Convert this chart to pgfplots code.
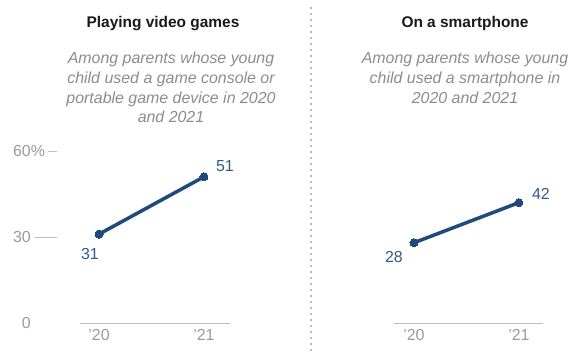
\documentclass[border=0pt]{standalone}
\usepackage{pgfplots}
\pgfplotsset{compat=1.18}
\usepackage{fontspec}
\setmainfont{Liberation Sans}
\definecolor{pewline}{HTML}{1F4A7C}
\definecolor{pewlab}{HTML}{2D5B8F}
\definecolor{subgray}{HTML}{8C8C8C}
\definecolor{tickgray}{HTML}{9A9A9A}
\definecolor{basegray}{HTML}{BDBDBD}
\pgfplotsset{
  pewaxis/.style={
    scale only axis, height=172bp,
    ymin=0, ymax=60,
    axis x line*=bottom, axis y line*=left,
    x axis line style={draw=basegray, line width=1bp},
    y axis line style={draw=none},
    major tick length=0pt,
    xtick={0,1}, xticklabels={'20,'21},
    xticklabel style={font=\fontsize{16}{19}\selectfont, text=tickgray, yshift=-3bp},
    /pgf/number format/assume math mode=true,
    clip=false,
  },
  pewline/.style={color=pewline, line width=3.5bp, mark=*, mark size=4bp, mark options={fill=pewline, draw=pewline, line width=0pt}},
}
\begin{document}
\begin{tikzpicture}[x=1bp,y=1bp]
% left panel
\begin{axis}[pewaxis, at={(80bp,29bp)}, anchor=south west, width=150bp,
  xmin=-0.181, xmax=1.248,
  ytick={0,30,60}, yticklabels={0,30,60\rlap{\%}},
  yticklabel style={anchor=east, inner sep=0pt, xshift=-49bp, font=\fontsize{16}{19}\selectfont, text=tickgray},
]
\addplot[pewline] coordinates {(0,31) (1,51)};
\draw[basegray, line width=0.8bp] (axis cs:-0.61,30) -- (axis cs:-0.40,30);
\draw[basegray, line width=0.8bp] (axis cs:-0.486,60) -- (axis cs:-0.40,60);
\node[text=pewlab, font=\fontsize{16}{19}\selectfont, xshift=-9bp, yshift=-20bp] at (axis cs:0,31) {31};
\node[text=pewlab, font=\fontsize{16}{19}\selectfont, xshift=21bp, yshift=11bp] at (axis cs:1,51) {51};
\end{axis}
% right panel
\begin{axis}[pewaxis, at={(394bp,29bp)}, anchor=south west, width=149bp,
  xmin=-0.19, xmax=1.229, ytick=\empty,
]
\addplot[pewline] coordinates {(0,28) (1,42)};
\node[text=pewlab, font=\fontsize{16}{19}\selectfont, xshift=-20bp, yshift=-14bp] at (axis cs:0,28) {28};
\node[text=pewlab, font=\fontsize{16}{19}\selectfont, xshift=22bp, yshift=9bp] at (axis cs:1,42) {42};
\end{axis}
% separator
\draw[basegray, line width=1.6bp, dash pattern=on 2bp off 4bp] (311,1) -- (311,348);
% titles
\node[anchor=base, inner sep=0pt, text=black!90, font=\bfseries\fontsize{15.5}{18}\selectfont] at (163,325) {Playing video games};
\node[anchor=base, inner sep=0pt, text=black!90, font=\bfseries\fontsize{15.5}{18}\selectfont] at (465,325) {On a smartphone};
\node[anchor=north, inner sep=0pt, align=center, text=subgray, font=\itshape\fontsize{16}{20}\selectfont] at (171,300.6) {Among parents whose young\\child used a game console or\\portable game device in 2020\\and 2021};
\node[anchor=north, inner sep=0pt, align=center, text=subgray, font=\itshape\fontsize{16}{20}\selectfont] at (465,300.6) {Among parents whose young\\child used a smartphone in\\2020 and 2021};
\pgfresetboundingbox
\path[use as bounding box] (0,0) rectangle (574,352);
\end{tikzpicture}
\end{document}
